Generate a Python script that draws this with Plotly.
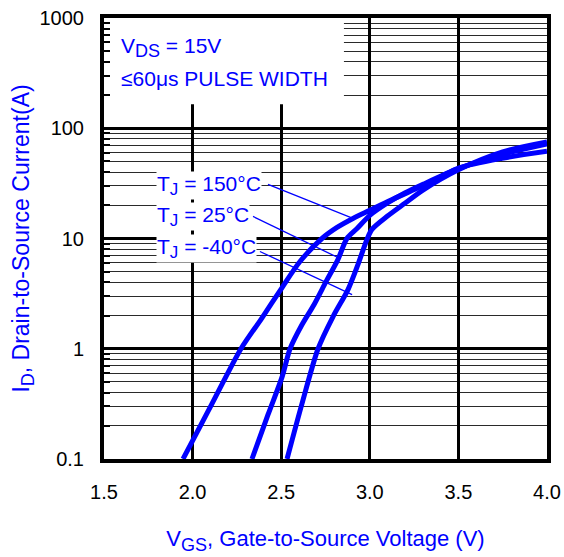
import plotly.graph_objects as go

# ---- data ----
vgs_150 = [1.946, 2.109, 2.273, 2.392, 2.505, 2.606, 2.73, 2.815, 2.905, 3.0, 3.114, 3.227, 3.34, 3.498, 3.746, 4.0]
id_150 = [0.1, 0.316, 1.0, 1.91, 3.59, 6.18, 10, 12.6, 15.2, 18, 22.1, 26.7, 32.3, 43.3, 53.4, 61.8]

vgs_25 = [2.335, 2.425, 2.505, 2.55, 2.617, 2.685, 2.753, 2.82, 2.871, 2.928, 3.0, 3.1, 3.2, 3.3, 3.5, 3.75, 4.0]
id_25 = [0.1, 0.251, 0.556, 1.0, 1.65, 2.51, 4.06, 6.44, 10, 12.3, 16.2, 21, 26, 31, 43, 58, 72]

vgs_m40 = [2.533, 2.617, 2.708, 2.792, 2.877, 2.933, 2.984, 3.012, 3.10, 3.20, 3.30, 3.50, 3.75, 4.0]
id_m40 = [0.1, 0.316, 1.0, 1.95, 3.44, 5.8, 9.8, 12.1, 16, 21, 27.5, 42, 61, 75]


def sub(s, px):
    return '<sub><span style="font-size:%dpx">%s</span></sub>' % (px, s)


series_names = ["T" + sub("J", 17) + " = 150°C",
                "T" + sub("J", 17) + " = 25°C",
                "T" + sub("J", 17) + " = -40°C"]

# leader lines: label end -> curve (data coords)
leader_150_x = [2.4255, 2.905]
leader_150_y = [31.0, 15.2]
leader_25_x = [2.341, 2.82]
leader_25_y = [15.85, 6.72]
leader_m40_x = [2.38, 2.90]
leader_m40_y = [7.62, 3.1]

# white panel behind the test-condition text (data coords)
box_x = [1.5, 2.854, 2.854, 1.5, 1.5]
box_y = [165, 165, 1000, 1000, 165]

x_ticks = [1.5, 2.0, 2.5, 3.0, 3.5, 4.0]
x_ticktext = ["1.5", "2.0", "2.5", "3.0", "3.5", "4.0"]
y_ticks = [0.1, 1, 10, 100, 1000]
y_ticktext = ["0.1", "1", "10", "100", "1000"]
decades = [0.1, 1, 10, 100]
minor_mult = [2, 3, 4, 5, 6, 7, 8, 9]
y_minor = [d * m for d in decades for m in minor_mult]

BLUE = "#0000ff"
FONT = "Liberation Sans, Arial, Helvetica, sans-serif"

fig = go.Figure()
fig.add_trace(go.Scatter(x=box_x, y=box_y, mode="lines", fill="toself",
                         fillcolor="white", line=dict(width=0, color="white"),
                         showlegend=False, hoverinfo="skip"))
for vx, iy in [(vgs_150, id_150), (vgs_25, id_25), (vgs_m40, id_m40)]:
    fig.add_trace(go.Scatter(x=vx, y=iy, mode="lines",
                             line=dict(color=BLUE, width=5, shape="spline", smoothing=0.8),
                             showlegend=False, hoverinfo="skip"))
for lx, ly in [(leader_150_x, leader_150_y), (leader_25_x, leader_25_y), (leader_m40_x, leader_m40_y)]:
    fig.add_trace(go.Scatter(x=lx, y=ly, mode="lines",
                             line=dict(color=BLUE, width=1.3),
                             showlegend=False, hoverinfo="skip"))

fig.add_annotation(text="V" + sub("DS", 18) + " = 15V", xref="x domain", yref="y domain",
                   x=0.033, y=0.932, xanchor="left", yanchor="middle", showarrow=False,
                   font=dict(family=FONT, size=21, color=BLUE))
fig.add_annotation(text="≤60μs PULSE WIDTH", xref="x domain", yref="y domain",
                   x=0.033, y=0.862, xanchor="left", yanchor="middle", showarrow=False,
                   font=dict(family=FONT, size=21, color=BLUE))

label_y_px = [185, 216, 248]
for name, ypx in zip(series_names, label_y_px):
    fig.add_annotation(text=name, x=0.117, y=(459 - ypx) / 441,
                       xref="x domain", yref="y domain",
                       xanchor="left", yanchor="middle", showarrow=False,
                       bgcolor="white", borderpad=0,
                       font=dict(family=FONT, size=21, color=BLUE))

fig.update_xaxes(range=[1.5, 4.0], tickvals=x_ticks, ticktext=x_ticktext,
                 showgrid=True, gridcolor="black", gridwidth=3,
                 showline=True, linecolor="black", linewidth=4, mirror=True,
                 ticks="", ticklabelstandoff=12, zeroline=False, automargin=False,
                 tickfont=dict(family=FONT, size=20, color="black"),
                 title=dict(text="V" + sub("GS", 18) + ", Gate-to-Source Voltage (V)",
                            font=dict(family=FONT, size=22, color=BLUE), standoff=30))
fig.update_yaxes(type="log", range=[-1, 3], tickvals=y_ticks, ticktext=y_ticktext,
                 showgrid=True, gridcolor="black", gridwidth=3,
                 showline=True, linecolor="black", linewidth=4, mirror=True,
                 ticks="inside", ticklen=8, tickwidth=2, tickcolor="black",
                 ticklabelstandoff=12, zeroline=False, automargin=False,
                 minor=dict(tickmode="array", tickvals=y_minor,
                            ticks="inside", ticklen=6, tickwidth=1.5, tickcolor="black",
                            showgrid=True, gridcolor="#2a2a2a", gridwidth=1.3),
                 tickfont=dict(family=FONT, size=20, color="black"),
                 title=dict(text="I" + sub("D", 18) + ", Drain-to-Source Current(A)",
                            font=dict(family=FONT, size=23, color=BLUE), standoff=4))

fig.update_layout(width=564, height=557,
                  margin=dict(l=104, r=17, t=18, b=98),
                  paper_bgcolor="white", plot_bgcolor="white",
                  font=dict(family=FONT))

# remove the browser's default 8px body margin so the figure sits at the page origin
fig.write_html("out.html", config={"displayModeBar": False},
               post_script="document.body.style.margin='0';document.body.style.overflow='hidden';")
